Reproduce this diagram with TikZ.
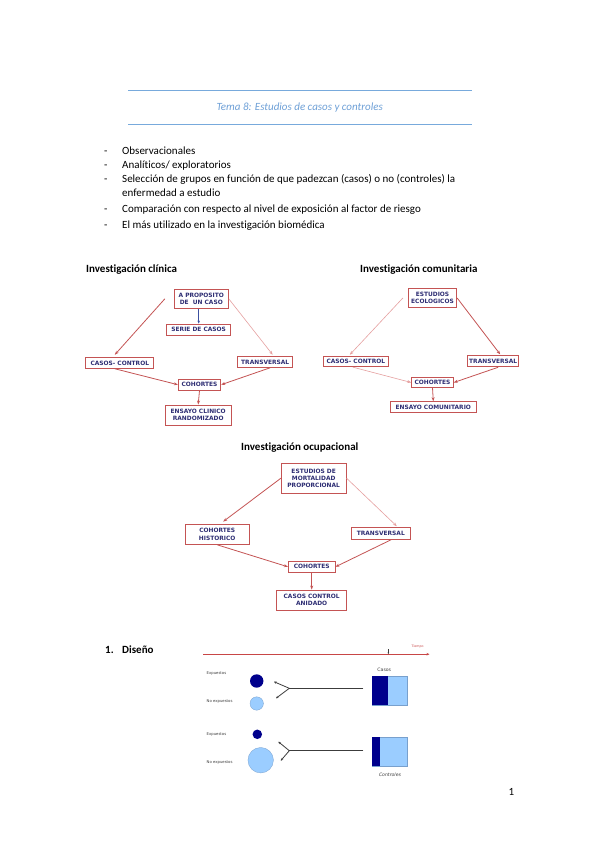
\documentclass[tikz,border=0pt]{standalone}
\usepackage{fontspec}
\setmainfont{Carlito}[Ligatures=NoCommon]
\newfontfamily\boxfont{DejaVu Sans}
\usetikzlibrary{arrows.meta}
\definecolor{boxred}{RGB}{196,84,84}
\definecolor{lightred}{RGB}{230,160,160}
\definecolor{boxtext}{RGB}{45,45,115}
\definecolor{headblue}{RGB}{120,170,220}
\definecolor{titleblue}{RGB}{110,160,215}
\definecolor{darkblue}{RGB}{0,0,140}
\definecolor{lightblue}{RGB}{155,205,255}
\definecolor{circedge}{RGB}{120,160,205}
\definecolor{forkgray}{RGB}{60,60,60}
\definecolor{timered}{RGB}{200,70,70}
\definecolor{arrowblue}{RGB}{60,80,160}
\tikzset{
  box/.style={draw=boxred, line width=0.9pt, fill=white, inner sep=0pt,
    align=center, text=boxtext, font=\boxfont\bfseries\fontsize{5.9}{7.3}\selectfont},
  redarrow/.style={draw=boxred, line width=0.8pt, -{Stealth[length=4pt,width=3pt]}},
  lightarrow/.style={draw=lightred, line width=0.6pt, -{Stealth[length=4pt,width=3pt]}},
  bluearrow/.style={draw=arrowblue, line width=0.8pt, -{Stealth[length=3pt,width=2.5pt]}},
  bodytext/.style={anchor=base west, inner sep=0pt, font=\fontsize{11}{13}\selectfont},
  headtext/.style={anchor=base west, inner sep=0pt, font=\fontsize{11}{13}\selectfont\bfseries},
  tinytext/.style={anchor=base west, inner sep=0pt, text=forkgray, font=\boxfont\fontsize{3.8}{4}\selectfont},
  dot/.style={circle, inner sep=0pt},
  forkline/.style={draw=forkgray, line width=0.8pt},
  forkarrow/.style={draw=forkgray, line width=0.8pt, -{Stealth[length=2.5pt,width=2.5pt]}},
}
\begin{document}
\begin{tikzpicture}[x=1pt,y=-1pt]
\useasboundingbox (0,0) rectangle (599,848);
\fill[white] (0,0) rectangle (599,848);
% header
\coordinate (hl1a) at (128.3,90); \coordinate (hl1b) at (471.7,90);
\coordinate (hl2a) at (128.3,124.3); \coordinate (hl2b) at (471.7,124.3);
\draw[headblue, line width=0.8pt] (hl1a) -- (hl1b);
\draw[headblue, line width=0.8pt] (hl2a) -- (hl2b);
\node[anchor=base, inner sep=0pt, text=titleblue, font=\fontsize{11}{13}\selectfont\itshape] (title) at (299.7,110.5) {Tema 8: Estudios de casos y controles};
% bullets
\node[bodytext] (d1) at (104,154) {-};
\node[bodytext] (b1) at (122,154) {Observacionales};
\node[bodytext] (d2) at (104,168.2) {-};
\node[bodytext] (b2) at (122,168.2) {Analíticos/ exploratorios};
\node[bodytext] (d3) at (104,182.4) {-};
\node[bodytext] (b3) at (122,182.4) {Selección de grupos en función de que padezcan (casos) o no (controles) la};
\node[bodytext] (b3b) at (122,196.7) {enfermedad a estudio};
\node[bodytext] (d4) at (104,212.3) {-};
\node[bodytext] (b4) at (122,212.3) {Comparación con respecto al nivel de exposición al factor de riesgo};
\node[bodytext] (d5) at (104,228) {-};
\node[bodytext] (b5) at (122,228) {El más utilizado en la investigación biomédica};
% headings
\node[headtext] (h1) at (86,272.5) {Investigación clínica};
\node[headtext] (h2) at (360,272.5) {Investigación comunitaria};
\node[headtext] (h3) at (241,450) {Investigación ocupacional};
% diagram 1
\node[box, minimum width=54pt, minimum height=19pt] (apc) at (201.3,298.8) {A PROPOSITO\\DE\ \ UN CASO};
\node[box, minimum width=64pt, minimum height=11pt] (serie) at (198.7,329.5) {SERIE DE CASOS};
\node[box, minimum width=68pt, minimum height=10.6pt] (cc1) at (119.8,363) {CASOS- CONTROL};
\node[box, minimum width=55pt, minimum height=10.6pt] (tr1) at (265.2,362) {TRANSVERSAL};
\node[box, minimum width=42.4pt, minimum height=10.7pt] (coh1) at (199.5,384.7) {COHORTES};
\node[box, minimum width=65.7pt, minimum height=20pt] (ens) at (198.2,415) {ENSAYO CLINICO\\RANDOMIZADO};
\draw[redarrow] ([xshift=-9pt]apc.west) -- ([xshift=-5pt,yshift=2.5pt]cc1.north);
\draw[lightarrow] (apc.east) -- ([xshift=7.5pt,yshift=1.5pt]tr1.north);
\draw[bluearrow] (serie.north |- apc.south) -- (serie.north);
\draw[redarrow] ([xshift=-5pt]cc1.south) -- (coh1.west);
\draw[redarrow] ([xshift=5pt]tr1.south) -- (coh1.east);
\draw[redarrow] (coh1.south) -- (ens.north);
% diagram 2
\node[box, minimum width=48.4pt, minimum height=19.4pt] (eco) at (432.5,298) {ESTUDIOS\\ECOLOGICOS};
\node[box, minimum width=65pt, minimum height=10pt] (cc2) at (355.8,361.7) {CASOS- CONTROL};
\node[box, minimum width=51pt, minimum height=11pt] (tr2) at (493.2,361.3) {TRANSVERSAL};
\node[box, minimum width=41.6pt, minimum height=9.6pt] (coh2) at (432.5,382.5) {COHORTES};
\node[box, minimum width=86.7pt, minimum height=10.6pt] (ensc) at (433.3,407) {ENSAYO COMUNITARIO};
\draw[lightarrow] ([xshift=-5pt]eco.west) -- ([xshift=-6pt,yshift=1.5pt]cc2.north);
\draw[redarrow] (eco.east) -- ([xshift=7pt,yshift=1pt]tr2.north);
\draw[lightarrow] ([xshift=-3pt]cc2.south) -- (coh2.west);
\draw[redarrow] ([xshift=5pt]tr2.south) -- (coh2.east);
\draw[redarrow] (coh2.south) -- (ensc.north);
% diagram 3
\node[box, minimum width=65pt, minimum height=30pt] (emp) at (313.7,478.3) {ESTUDIOS DE\\MORTALIDAD\\PROPORCIONAL};
\node[box, minimum width=64.3pt, minimum height=20.3pt] (ch) at (217.2,534.2) {COHORTES\\HISTORICO};
\node[box, minimum width=58.3pt, minimum height=11.3pt] (tr3) at (380.8,533.3) {TRANSVERSAL};
\node[box, minimum width=46.7pt, minimum height=11.7pt] (coh3) at (311.7,566.8) {COHORTES};
\node[box, minimum width=70pt, minimum height=20pt] (cca) at (311.7,600) {CASOS CONTROL\\ANIDADO};
\draw[redarrow] (emp.west) -- ([xshift=6pt,yshift=2pt]ch.north);
\draw[lightarrow] (emp.east) -- ([xshift=16pt,yshift=1pt]tr3.north);
\draw[redarrow] (ch.south) -- (coh3.west);
\draw[redarrow] ([xshift=11pt]tr3.south) -- (coh3.east);
\draw[redarrow] (coh3.south) -- (cca.north);
% design
\node[headtext] (dis1) at (105,653.5) {1.};
\node[headtext] (dis2) at (122,653.5) {Diseño};
\coordinate (t0) at (203.3,654.2);
\coordinate (t1) at (429.5,654.2);
\draw[timered, line width=0.9pt, -{Stealth[length=3pt,width=2.5pt]}] (t0) -- (t1);
\coordinate (tk0) at (388.3,649);
\coordinate (tk1) at (388.3,654);
\draw[forkgray, line width=0.4pt, -{Stealth[length=1.5pt,width=1.5pt]}] (tk0) -- (tk1);
\node[anchor=base west, inner sep=0pt, text=timered, font=\boxfont\fontsize{3.2}{4}\selectfont] (tiempo) at (411.5,647.2) {Tiempo};
% group 1
\node[tinytext] (e1) at (206.5,674.5) {Expuestos};
\node[tinytext] (ne1) at (206.5,702.3) {No expuestos};
\node[dot, fill=darkblue, minimum size=13.4pt] (c1) at (256.7,681) {};
\node[dot, fill=lightblue, draw=circedge, line width=0.3pt, minimum size=13.4pt] (c2) at (256.7,703.5) {};
\node[draw=circedge, line width=0.4pt, fill=lightblue, minimum width=35.6pt, minimum height=29pt, inner sep=0pt] (casos) at (389.5,690.5) {};
\fill[darkblue] (casos.north west) rectangle ([xshift=16.6pt]casos.south west);
\node[anchor=base, inner sep=0pt, text=forkgray, font=\boxfont\fontsize{4.6}{5}\selectfont] (casoslbl) at (384.3,671) {Casos};
\coordinate (f1s) at (363.3,688.3);
\coordinate (f1v) at (289.3,688.3);
\coordinate (f1a) at (274,681.7);
\coordinate (f1b) at (276,698.3);
\draw[forkline] (f1s) -- (f1v);
\draw[forkarrow] (f1v) -- (f1a);
\draw[forkarrow] (f1v) -- (f1b);
% group 2
\node[tinytext] (e2) at (206.5,735.3) {Expuestos};
\node[tinytext] (ne2) at (206.5,763) {No expuestos};
\node[dot, fill=darkblue, minimum size=9.5pt] (c3) at (257.3,734.3) {};
\node[dot, fill=lightblue, draw=circedge, line width=0.3pt, minimum size=25.5pt] (c4) at (260.7,760.2) {};
\node[draw=circedge, line width=0.4pt, fill=lightblue, minimum width=35.6pt, minimum height=29pt, inner sep=0pt] (ctrl) at (389.5,751.2) {};
\fill[darkblue] (ctrl.north west) rectangle ([xshift=8.3pt]ctrl.south west);
\node[anchor=base, inner sep=0pt, text=forkgray, font=\boxfont\fontsize{4.6}{5}\selectfont\itshape] (ctrllbl) at (390,776) {Controles};
\coordinate (f2s) at (363.3,750.7);
\coordinate (f2v) at (289.3,750.7);
\coordinate (f2a) at (278.3,741.7);
\coordinate (f2b) at (280.7,760.7);
\draw[forkline] (f2s) -- (f2v);
\draw[forkarrow] (f2v) -- (f2a);
\draw[forkarrow] (f2v) -- (f2b);
% page number
\node[anchor=base, inner sep=0pt, font=\fontsize{11}{13}\selectfont] (pg) at (511.5,795.5) {1};
\end{tikzpicture}
\end{document}
